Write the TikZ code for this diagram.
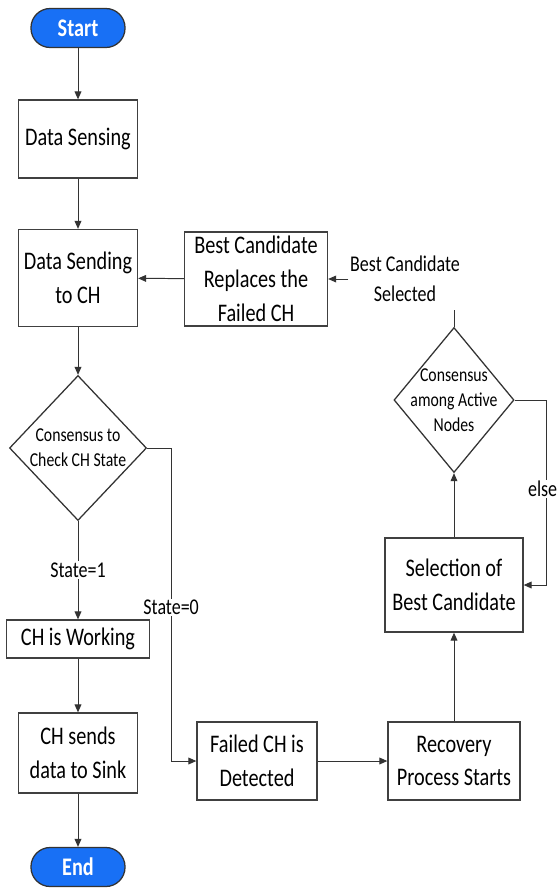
\documentclass[tikz,border=0pt]{standalone}
\usepackage{fontspec}
\setmainfont{Carlito}[FakeStretch=0.8]
\usetikzlibrary{arrows.meta,shapes.geometric}
\definecolor{termblue}{RGB}{24,112,245}

\begin{document}
\begin{tikzpicture}[x=0.025cm, y=-0.025cm,
    term/.style={draw=black!80, line width=0.9pt, fill=termblue, rounded corners=0.48cm,
        minimum width=2.35cm, minimum height=0.975cm, text=white,
        font=\bfseries\fontsize{18}{22}\selectfont},
    box/.style={draw=black!75, line width=0.9pt, fill=white, align=center, inner sep=2pt,
        font=\fontsize{18}{24}\selectfont},
    dec/.style={diamond, draw=black!80, line width=0.9pt, fill=white, align=center,
        inner xsep=-4mm, inner ysep=-6mm, font=\fontsize{14}{18}\selectfont},
    lbl/.style={fill=white, inner sep=1pt, align=center, font=\fontsize{16}{21}\selectfont},
    arr/.style={draw=black!80, line width=0.7pt, -{Triangle[length=2mm,width=1.7mm]}},
    ln/.style={draw=black!80, line width=0.7pt}]
    \useasboundingbox (0,0) rectangle (557,888);

    % left column
    \node[term] (start) at (78,28) {Start};
    \node[box, minimum width=2.975cm, minimum height=1.95cm] (sense) at (78,139) {Data Sensing};
    \node[box, minimum width=2.975cm, minimum height=2.425cm] (send) at (78,278) {Data Sending\\to CH};
    \node[dec, minimum width=3.425cm, minimum height=3.625cm] (check) at (78,448) {Consensus to\\Check CH State};
    \node[box, minimum width=3.575cm, minimum height=0.95cm] (work) at (78,639) {CH is Working};
    \node[box, minimum width=2.975cm, minimum height=2cm] (sink) at (78,753) {CH sends\\data to Sink};
    \node[term] (end) at (78,867) {End};

    % recovery path
    \node[box, minimum width=3.575cm, minimum height=2.35cm] (replace) at (256,279) {Best Candidate\\Replaces the\\Failed CH};
    \node[box, minimum width=3cm, minimum height=1.95cm] (failed) at (257,761) {Failed CH is\\Detected};
    \node[box, minimum width=3.3cm, minimum height=1.95cm] (recover) at (454,761) {Recovery\\Process Starts};
    \node[box, minimum width=3.45cm, minimum height=2.35cm] (select) at (454,585) {Selection of\\Best Candidate};
    \node[dec, minimum width=3cm, minimum height=3.625cm] (active) at (454,400) {Consensus\\among Active\\Nodes};
    \node[lbl] (picked) at (405,279) {Best Candidate\\Selected};
    \coordinate (top) at (454,310);

    \draw[arr] (start) -- (sense);
    \draw[arr] (sense) -- (send);
    \draw[arr] (send) -- (check);
    \draw[arr] (check) -- node[lbl] {State=1} (work);
    \draw[arr] (work) -- (sink);
    \draw[arr] (sink) -- (end);
    \draw[arr] (check.east) -- ++(24,0) |- node[lbl, pos=0.255] {State=0} (failed.west);
    \draw[arr] (failed) -- (recover);
    \draw[arr] (recover) -- (select);
    \draw[arr] (select) -- (active);
    \draw[arr] (active.east) -- ++(32,0) |- node[lbl, pos=0.24, xshift=-0.1cm] {else} (select.east);
    \draw[ln] (active.north) -- (top);
    \draw[arr] (picked) -- (replace);
    \draw[arr] (replace) -- (send);
\end{tikzpicture}
\end{document}
